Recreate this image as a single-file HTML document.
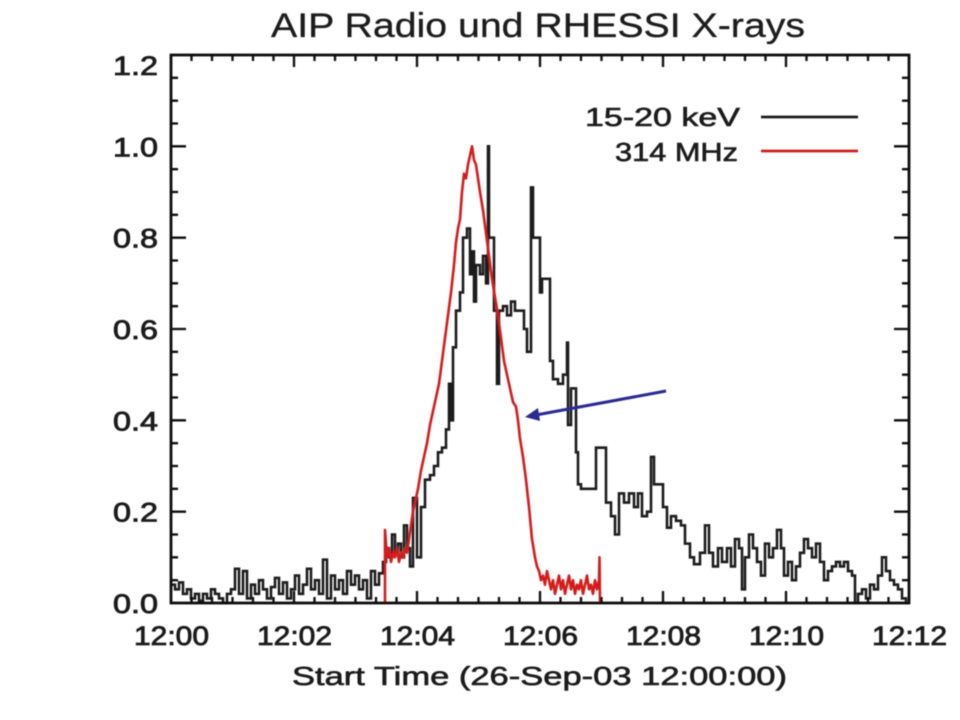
<!DOCTYPE html>
<html>
<head>
<meta charset="utf-8">
<style>
  html, body { margin: 0; padding: 0; background: #ffffff; }
  body { width: 960px; height: 720px; overflow: hidden; }
  svg { display: block; }
  text { font-family: "Liberation Sans", "DejaVu Sans", sans-serif; fill: #1a1a1a; }
</style>
</head>
<body>
<svg width="960" height="720" viewBox="0 0 960 720" xmlns="http://www.w3.org/2000/svg">
  <defs>
    <filter id="soft" x="-5%" y="-5%" width="110%" height="110%">
      <feGaussianBlur stdDeviation="0.6"/>
    </filter>
  </defs>
  <rect x="0" y="0" width="960" height="720" fill="#ffffff"/>

  <g filter="url(#soft)">
  <!-- Title -->
  <text x="271" y="37" font-size="34" textLength="534" lengthAdjust="spacingAndGlyphs" stroke="#1a1a1a" stroke-width="0.3">AIP Radio und RHESSI X-rays</text>

  <!-- Data series (data coords: x in px, y in value units) -->
  <g transform="translate(0,603) scale(1,-456.667)">
    <!-- Black 15-20 keV step histogram -->
    <path fill="none" stroke="#1e1e1e" stroke-width="2.6" vector-effect="non-scaling-stroke" stroke-linejoin="miter"
      d="M171 0.04 H175 V0.03 H179 V0.045 H183 V0.02 H187 V0.03 H191 V0.01 H195 V0.02 H199 V0.005 H203 V0.02 H207 V0.01 H211 V0.03 H215 V0.02 H219 V0.01 H223 V0 H227 V0.02 H231 V0.03 H235 V0.075 H239 V0.02 H243 V0.07 H247 V0.01 H251 V0.04 H255 V0.02 H259 V0.05 H263 V0.03 H267 V0.01 H271 V0.035 H275 V0.055 H279 V0.02 H283 V0.045 H287 V0.01 H291 V0.03 H295 V0.06 H299 V0.02 H303 V0.04 H307 V0.075 H311 V0.03 H315 V0.05 H319 V0.02 H323 V0.095 H327 V0.01 H331 V0.06 H335 V0.03 H339 V0.05 H343 V0.02 H347 V0.07 H351 V0.04 H355 V0.06 H359 V0.03 H363 V0.05 H367 V0.01 H371 V0.07 H375 V0.04 H379 V0.065 H383
      V0.09 H386 V0.12 H389 V0.10 H392 V0.15 H395 V0.11 H398 V0.13 H401 V0.10 H404 V0.17 H407 V0.12 H410 V0.08 H413 V0.23 H417 V0.10 H421 V0.21 H425 V0.27 H430 V0.28 H434 V0.30 H438 V0.33 H442 V0.34 H446 V0.38 H449 V0.48 H451 V0.40 H453 V0.56 H456 V0.64 H460 V0.68 H463 V0.80 H467 V0.82 H470 V0.72 H472 V0.77 H474 V0.66 H476 V0.74 H480 V0.72 H483 V0.76 H486 V0.70 H488 V1.0 H489 V0.80 H494 V0.64 H497 V0.48 H499 V0.64 H503 V0.65 H507 V0.63 H511 V0.66 H515 V0.64 H520 V0.64 H524 V0.60 H527 V0.55 H531 V0.91 H533 V0.80 H540 V0.68 H542 V0.71 H550 V0.53 H553 V0.49 H558 V0.48 H563 V0.50 H567 V0.57 H568 V0.39 H571 V0.47 H576 V0.33 H578 V0.26 H581 V0.25 H590 V0.25 H596 V0.34 H606 V0.22 H611 V0.19 H615 V0.15 H619 V0.24 H624 V0.22 H629 V0.24 H634 V0.21 H638 V0.24 H642 V0.19 H647 V0.20 H651 V0.32 H654 V0.26 H663 V0.21 H667 V0.165 H671 V0.19 H676 V0.18 H681 V0.17 H685 V0.13 H690 V0.10 H694 V0.085 H700 V0.11 H705 V0.17 H709 V0.11 H713 V0.08 H718 V0.12 H722 V0.09 H727 V0.12 H731 V0.08 H735 V0.14 H739 V0.12 H742 V0.03 H745 V0.10 H749 V0.15 H753 V0.12 H757 V0.09 H761 V0.06 H765 V0.13 H769 V0.10 H773 V0.12 H777 V0.16 H781 V0.12 H784 V0.06 H788 V0.09 H792 V0.05 H796 V0.08 H800 V0.11 H804 V0.14 H808 V0.12 H812 V0.10 H816 V0.13 H820 V0.09 H824 V0.05 H828 V0.07 H832 V0.08 H836 V0.09 H840 V0.08 H844 V0.09 H848 V0.07 H852 V0.06 H855 V0 H858 V0.02 H862 V0.03 H866 V0.01 H870 V0.04 H874 V0.03 H878 V0.06 H882 V0.10 H886 V0.07 H890 V0.05 H894 V0.04 H898 V0.03 H902 V0.01 H906 V0 H909"/>
    <!-- Red 314 MHz -->
    <path fill="none" stroke="#d41c1c" stroke-width="2.6" vector-effect="non-scaling-stroke" stroke-linejoin="round"
      d="M385 0 L385 0.16 L387 0.10 L389 0.12 L391 0.09 L393 0.11 L395 0.10 L397 0.12 L399 0.09 L401 0.11 L403 0.10 L405 0.12 L407 0.11 L409 0.14 L411 0.17 L413 0.20 L415 0.22 L418 0.25 L421 0.29 L424 0.32 L427 0.35 L430 0.39 L433 0.42 L436 0.45 L439 0.48 L442 0.53 L445 0.58 L448 0.63 L451 0.68 L454 0.74 L456 0.79 L458 0.82 L460 0.84 L462 0.90 L464 0.94 L466 0.93 L468 0.96 L470 0.98 L472 1.0 L474 0.97 L476 0.96 L478 0.93 L480 0.90 L483 0.86 L486 0.81 L489 0.76 L492 0.71 L495 0.67 L498 0.63 L501 0.58 L504 0.53 L507 0.50 L510 0.47 L513 0.44 L516 0.43 L518 0.40 L520 0.36 L523 0.32 L526 0.27 L529 0.21 L532 0.14 L535 0.10 L537 0.08 L539 0.07 L541 0.05 L543 0.06 L545 0.04 L547 0.07 L549 0.05 L551 0.03 L553 0.05 L555 0.02 L557 0.04 L559 0.06 L561 0.03 L563 0.05 L565 0.02 L567 0.04 L569 0.06 L571 0.03 L573 0.05 L575 0.02 L577 0.04 L579 0.03 L581 0.05 L583 0.02 L585 0.04 L587 0.06 L589 0.03 L591 0.04 L593 0.02 L595 0.05 L597 0.03 L599 0.05 L599.5 0.10 L600 0"/>
  </g>

  <!-- Axes box -->
  <rect x="171" y="55" width="738" height="548" fill="none" stroke="#111" stroke-width="2.8"/>

  <!-- Y ticks (left and right) -->
  <path fill="none" stroke="#111" stroke-width="2.3"
    d="M171 580.2 H178 M171 557.3 H178 M171 534.5 H178 M171 488.8 H178 M171 466 H178 M171 443.2 H178 M171 397.5 H178 M171 374.7 H178 M171 351.8 H178 M171 306.2 H178 M171 283.3 H178 M171 260.5 H178 M171 214.8 H178 M171 192 H178 M171 169.2 H178 M171 123.5 H178 M171 100.7 H178 M171 77.8 H178
       M171 511.7 H186 M171 420.3 H186 M171 329 H186 M171 237.7 H186 M171 146.3 H186
       M909 580.2 H902 M909 557.3 H902 M909 534.5 H902 M909 488.8 H902 M909 466 H902 M909 443.2 H902 M909 397.5 H902 M909 374.7 H902 M909 351.8 H902 M909 306.2 H902 M909 283.3 H902 M909 260.5 H902 M909 214.8 H902 M909 192 H902 M909 169.2 H902 M909 123.5 H902 M909 100.7 H902 M909 77.8 H902
       M909 511.7 H894 M909 420.3 H894 M909 329 H894 M909 237.7 H894 M909 146.3 H894"/>

  <!-- X ticks (bottom and top) -->
  <path fill="none" stroke="#111" stroke-width="2.3"
    d="M191.5 603 V597 M212 603 V597 M232.5 603 V597 M253 603 V597 M273.5 603 V597 M314.5 603 V597 M335 603 V597 M355.5 603 V597 M376 603 V597 M396.5 603 V597 M437.5 603 V597 M458 603 V597 M478.5 603 V597 M499 603 V597 M519.5 603 V597 M560.5 603 V597 M581 603 V597 M601.5 603 V597 M622 603 V597 M642.5 603 V597 M683.5 603 V597 M704 603 V597 M724.5 603 V597 M745 603 V597 M765.5 603 V597 M806.5 603 V597 M827 603 V597 M847.5 603 V597 M868 603 V597 M888.5 603 V597
       M294 603 V591 M417 603 V591 M540 603 V591 M663 603 V591 M786 603 V591
       M191.5 55 V61 M212 55 V61 M232.5 55 V61 M253 55 V61 M273.5 55 V61 M314.5 55 V61 M335 55 V61 M355.5 55 V61 M376 55 V61 M396.5 55 V61 M437.5 55 V61 M458 55 V61 M478.5 55 V61 M499 55 V61 M519.5 55 V61 M560.5 55 V61 M581 55 V61 M601.5 55 V61 M622 55 V61 M642.5 55 V61 M683.5 55 V61 M704 55 V61 M724.5 55 V61 M745 55 V61 M765.5 55 V61 M806.5 55 V61 M827 55 V61 M847.5 55 V61 M868 55 V61 M888.5 55 V61
       M294 55 V67 M417 55 V67 M540 55 V67 M663 55 V67 M786 55 V67"/>

  <!-- Y labels -->
  <g font-size="27" stroke="#1a1a1a" stroke-width="0.8">
    <text x="113" y="613" textLength="45" lengthAdjust="spacingAndGlyphs">0.0</text>
    <text x="113" y="521.7" textLength="45" lengthAdjust="spacingAndGlyphs">0.2</text>
    <text x="113" y="430.3" textLength="45" lengthAdjust="spacingAndGlyphs">0.4</text>
    <text x="113" y="339" textLength="45" lengthAdjust="spacingAndGlyphs">0.6</text>
    <text x="113" y="247.7" textLength="45" lengthAdjust="spacingAndGlyphs">0.8</text>
    <text x="113" y="156.3" textLength="45" lengthAdjust="spacingAndGlyphs">1.0</text>
    <text x="113" y="75" textLength="45" lengthAdjust="spacingAndGlyphs">1.2</text>
  </g>

  <!-- X labels -->
  <g font-size="27" stroke="#1a1a1a" stroke-width="0.8">
    <text x="134" y="645" textLength="75" lengthAdjust="spacingAndGlyphs">12:00</text>
    <text x="257" y="645" textLength="75" lengthAdjust="spacingAndGlyphs">12:02</text>
    <text x="380" y="645" textLength="75" lengthAdjust="spacingAndGlyphs">12:04</text>
    <text x="503" y="645" textLength="75" lengthAdjust="spacingAndGlyphs">12:06</text>
    <text x="626" y="645" textLength="75" lengthAdjust="spacingAndGlyphs">12:08</text>
    <text x="749" y="645" textLength="75" lengthAdjust="spacingAndGlyphs">12:10</text>
    <text x="872" y="645" textLength="75" lengthAdjust="spacingAndGlyphs">12:12</text>
  </g>

  <!-- X axis title -->
  <text x="292" y="685" font-size="26" textLength="495" lengthAdjust="spacingAndGlyphs" stroke="#1a1a1a" stroke-width="0.6">Start Time (26-Sep-03 12:00:00)</text>

  <!-- Legend -->
  <text x="585" y="126" font-size="26" textLength="155" lengthAdjust="spacingAndGlyphs" stroke="#1a1a1a" stroke-width="0.6">15-20 keV</text>
  <line x1="761" y1="117" x2="858" y2="117" stroke="#1e1e1e" stroke-width="2.8"/>
  <text x="615" y="161" font-size="26" textLength="123" lengthAdjust="spacingAndGlyphs" stroke="#1a1a1a" stroke-width="0.6">314 MHz</text>
  <line x1="761" y1="151" x2="858" y2="151" stroke="#d41c1c" stroke-width="2.8"/>

  <!-- Arrow -->
  <line x1="666" y1="391" x2="536" y2="415" stroke="#2b2b92" stroke-width="3"/>
  <polygon points="525,417 540,421 538,408" fill="#2b2b92"/>
  </g>
</svg>
</body>
</html>
